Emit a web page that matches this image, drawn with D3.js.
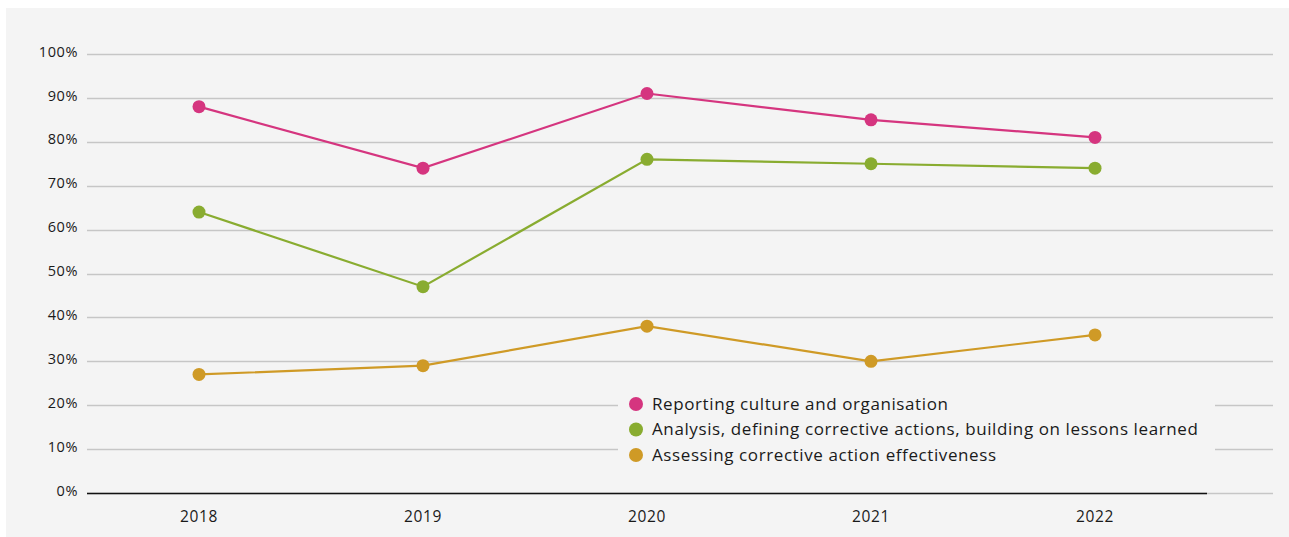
<!DOCTYPE html>
<html>
<head>
<meta charset="utf-8">
<script src="https://cdn.jsdelivr.net/npm/d3@7"></script>
<style>
    body { margin: 0; background: #ffffff; }
    svg { display: block; font-family: "Open Sans", "DejaVu Sans", sans-serif; }
</style>
</head>
<body>
<svg id="chart"></svg>
<script>
const years = ["2018", "2019", "2020", "2021", "2022"];
const yTicks = [0, 10, 20, 30, 40, 50, 60, 70, 80, 90, 100];

const seriesNames = [
    "Reporting culture and organisation",
    "Analysis, defining corrective actions, building on lessons learned",
    "Assessing corrective action effectiveness"
];
const reportingValues = [88, 74, 91, 85, 81];
const analysisValues = [64, 47, 76, 75, 74];
const assessingValues = [27, 29, 38, 30, 36];

const SERIES_COLORS = ["#d5357f", "#89ac30", "#cf9a26"];

const WIDTH = 1289;
const HEIGHT = 537;
const PADDING = { top: 54, bottom: 44, start: 87, end: 16 };

const series = [reportingValues, analysisValues, assessingValues].map((values, i) => ({
    name: seriesNames[i],
    color: SERIES_COLORS[i],
    points: values.map((v, j) => ({ year: years[j], value: v }))
}));

const svg = d3.select("#chart")
    .attr("width", WIDTH)
    .attr("height", HEIGHT);

// panel background
svg.append("rect")
    .attr("x", 6)
    .attr("y", 8)
    .attr("width", WIDTH - 6)
    .attr("height", HEIGHT - 8)
    .attr("fill", "#f4f4f4");

const xScale = d3.scaleBand()
    .domain(years)
    .range([PADDING.start, 1207]);

const yScale = d3.scaleLinear()
    .domain([0, 100])
    .range([HEIGHT - PADDING.bottom, PADDING.top]);

// gridlines
svg.append("g")
    .selectAll("line")
    .data(yTicks.filter(t => t > 0))
    .enter()
    .append("line")
        .attr("x1", PADDING.start)
        .attr("x2", WIDTH - PADDING.end)
        .attr("y1", d => Math.round(yScale(d)) + 0.5)
        .attr("y2", d => Math.round(yScale(d)) + 0.5)
        .attr("stroke", "#c6c6c6")
        .attr("stroke-width", 1.3);

// y axis labels
let yAxis = d3.axisLeft(yScale)
    .tickValues(yTicks)
    .tickSize(0)
    .tickPadding(9)
    .tickFormat(d => d + "%");
svg.append("g")
    .attr("transform", `translate(${PADDING.start}, -2.5)`)
    .call(yAxis)
    .call(g => g.select(".domain").remove())
    .selectAll("text")
        .attr("font-size", "14.5px")
        .attr("letter-spacing", "0.6px")
        .attr("fill", "#1a1a1a")
        .attr("font-family", "\"Open Sans\", sans-serif");

// baseline
svg.append("line")
    .attr("x1", PADDING.start)
    .attr("x2", WIDTH - PADDING.end)
    .attr("y1", yScale(0) + 0.5)
    .attr("y2", yScale(0) + 0.5)
    .attr("stroke", "#c6c6c6")
    .attr("stroke-width", 1.3);
svg.append("line")
    .attr("x1", PADDING.start)
    .attr("x2", 1207)
    .attr("y1", yScale(0) + 0.5)
    .attr("y2", yScale(0) + 0.5)
    .attr("stroke", "#111111")
    .attr("stroke-width", 1.5);

// x axis labels
let xAxis = d3.axisBottom(xScale)
    .tickSize(0)
    .tickPadding(18);
svg.append("g")
    .attr("transform", `translate(0, ${yScale(0)})`)
    .call(xAxis)
    .call(g => g.select(".domain").remove())
    .selectAll("text")
        .attr("font-size", "15.5px")
        .attr("letter-spacing", "0.6px")
        .attr("fill", "#1a1a1a")
        .attr("font-family", "\"Open Sans\", sans-serif");

const line = d3.line()
    .x(d => xScale(d.year) + xScale.bandwidth() / 2)
    .y(d => yScale(d.value));

const seriesGroups = svg.selectAll(".series")
    .data(series)
    .enter()
    .append("g")
        .classed("series", true);

seriesGroups.append("path")
    .attr("d", d => line(d.points))
    .attr("fill", "none")
    .attr("stroke", d => d.color)
    .attr("stroke-width", 2.2);

seriesGroups.selectAll("circle")
    .data(d => d.points.map(p => ({ ...p, color: d.color })))
    .enter()
    .append("circle")
        .attr("cx", d => xScale(d.year) + xScale.bandwidth() / 2)
        .attr("cy", d => yScale(d.value))
        .attr("r", 6.5)
        .attr("fill", d => d.color);

// legend
const legend = svg.append("g")
    .attr("transform", "translate(618, 392)");

legend.append("rect")
    .attr("width", 597)
    .attr("height", 74)
    .attr("fill", "#f4f4f4");

const legendItems = legend.selectAll(".legend-item")
    .data(series)
    .enter()
    .append("g")
        .classed("legend-item", true)
        .attr("transform", (d, i) => `translate(0, ${12 + i * 25.5})`);

legendItems.append("circle")
    .attr("cx", 18)
    .attr("cy", 0)
    .attr("r", 7)
    .attr("fill", d => d.color);

legendItems.append("text")
    .attr("x", 34)
    .attr("y", 0)
    .attr("dy", "0.35em")
    .attr("font-size", "17px")
    .attr("letter-spacing", "0.6px")
    .attr("fill", "#1a1a1a")
    .text(d => d.name);
</script>
</body>
</html>
